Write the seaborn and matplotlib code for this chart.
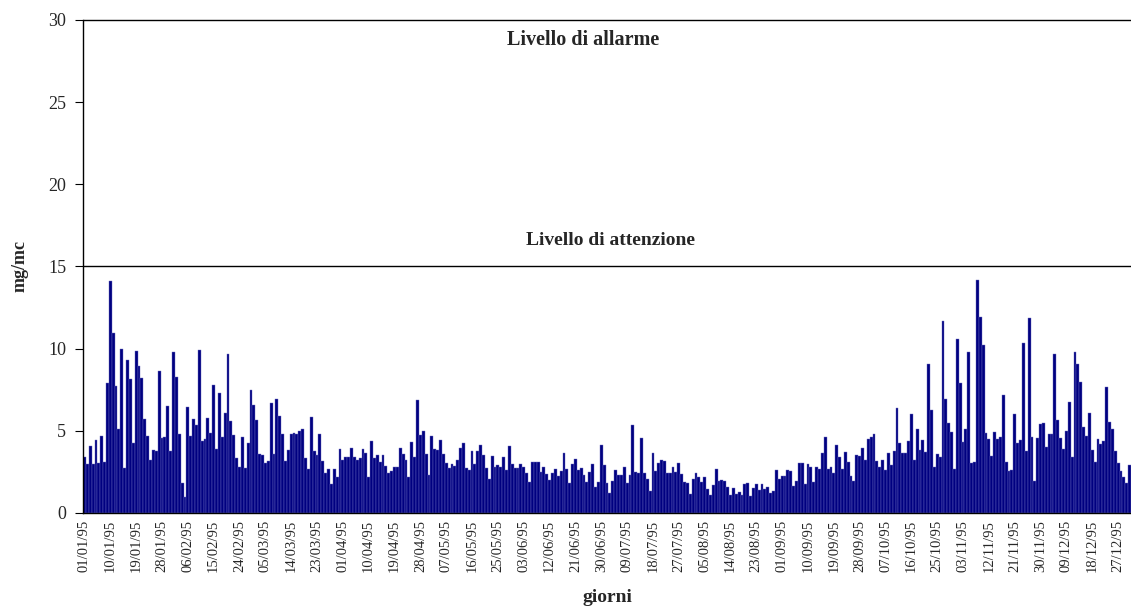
import pandas as pd
import matplotlib
matplotlib.use("Agg")
import matplotlib.pyplot as plt
import matplotlib.transforms as mtransforms
import seaborn as sns

# daily values, Jan -> Dec 1995 (mg/mc)
gen_feb = [3.39, 3.0, 4.08, 2.96, 4.44, 3.06, 4.7, 3.12, 7.93, 14.1, 10.97, 7.73, 5.13, 9.96,
           2.74, 9.29, 8.17, 4.24, 9.88, 8.92, 8.2, 5.74, 4.69, 3.25, 3.83, 3.79, 8.66, 4.54,
           4.64, 6.51, 3.79, 9.8, 8.26, 4.81, 1.8, 1.0, 6.47, 4.69, 5.72, 5.33, 9.92, 4.38,
           4.5, 5.8, 4.85, 7.79, 3.91, 7.3, 4.64, 6.06, 9.68, 5.62, 4.77, 3.37, 2.82, 4.64,
           2.76, 4.26, 7.48, 6.57]
mar_apr = [5.66, 3.61, 3.51, 3.02, 3.16, 6.71, 3.61, 6.92, 5.9, 4.83, 3.18, 3.83, 4.79, 4.87,
           4.79, 4.99, 5.09, 3.37, 2.68, 5.82, 3.77, 3.51, 4.79, 3.16, 2.45, 2.68, 1.78, 2.68,
           2.21, 3.91, 3.25, 3.4, 3.4, 3.94, 3.41, 3.2, 3.33, 3.91, 3.67, 2.21, 4.4, 3.33,
           3.53, 3.12, 3.53, 2.86, 2.43, 2.54, 2.82, 2.82, 3.94, 3.59, 3.2, 2.17, 4.34, 3.41,
           6.88, 4.77, 4.97, 3.59, 2.31, 4.71, 3.91]
mag_giu = [3.81, 4.42, 3.59, 3.02, 2.74, 2.96, 2.84, 3.23, 3.96, 4.24, 2.76, 2.6, 3.75, 2.96,
           3.75, 4.12, 3.55, 2.76, 2.05, 3.47, 2.82, 2.92, 2.8, 3.43, 2.62, 4.08, 2.98, 2.76,
           2.76, 3.0, 2.78, 2.45, 1.91, 3.12, 3.12, 3.12, 2.52, 2.82, 2.37, 2.01, 2.41, 2.68,
           2.27, 2.58, 3.67, 2.66, 1.85, 2.98, 3.29, 2.62, 2.74, 2.31, 1.91, 2.49, 2.96, 1.6,
           1.89, 4.14, 2.92, 1.8, 1.24]
lug_ago = [1.97, 2.62, 2.33, 2.29, 2.82, 1.85, 2.31, 5.33, 2.52, 2.41, 4.54, 2.45, 2.05, 1.36,
           3.67, 2.54, 3.06, 3.25, 3.16, 2.41, 2.45, 2.82, 2.52, 3.06, 2.37, 1.89, 1.8, 1.16,
           2.07, 2.41, 2.21, 1.89, 2.21, 1.48, 1.08, 1.7, 2.66, 1.97, 2.01, 1.97, 1.56, 1.08,
           1.5, 1.16, 1.3, 1.08, 1.76, 1.85, 1.03, 1.5, 1.74, 1.42, 1.78, 1.44, 1.58, 1.24,
           1.36, 2.62, 2.05, 2.27]
set_ott = [2.27, 2.62, 2.56, 1.64, 1.97, 3.06, 3.06, 1.76, 2.98, 2.82, 1.91, 2.78, 2.68, 3.65,
           4.64, 2.68, 2.82, 2.41, 4.14, 3.39, 2.68, 3.73, 3.1, 2.27, 1.97, 3.51, 3.47, 3.94,
           3.25, 4.48, 4.64, 4.79, 3.18, 2.8, 3.23, 2.62, 3.67, 2.92, 3.75, 6.41, 4.26, 3.65,
           3.67, 4.38, 6.0, 3.23, 5.11, 3.83, 4.42, 3.71, 9.07, 6.27, 2.78, 3.57, 3.43, 11.68,
           6.96, 5.46, 4.91, 2.68, 10.59, 7.93, 4.34]
nov_dic = [5.09, 9.8, 3.06, 3.12, 14.18, 11.93, 10.2, 4.87, 4.5, 3.47, 4.91, 4.52, 4.64, 7.16,
           3.12, 2.56, 2.64, 6.0, 4.24, 4.46, 10.34, 3.77, 11.85, 4.64, 1.93, 4.54, 5.4, 5.46,
           4.0, 4.81, 4.79, 9.66, 5.68, 4.58, 3.91, 5.01, 6.75, 3.41, 9.8, 9.07, 7.97, 5.25,
           4.71, 6.06, 3.83, 3.1, 4.52, 4.22, 4.36, 7.67, 5.54, 5.11, 3.75, 3.02, 2.56, 2.17,
           1.85, 2.92]

valori = gen_feb + mar_apr + mag_giu + lug_ago + set_ott + nov_dic
giorni = list(pd.date_range("1995-01-01", "1995-12-31").strftime("%d/%m/%y"))

soglie = [15, 30]
soglie_testo = ["Livello di attenzione", "Livello di allarme"]

df = pd.DataFrame({"giorno": giorni, "valore": valori})

sns.set_style("white")
plt.rcParams["font.family"] = ["Liberation Serif", "DejaVu Serif"]

fig = plt.figure(figsize=(11.31, 6.07), dpi=100)
ax = fig.add_axes([0.0734, 0.1549, 0.9266, 0.8122])

sns.barplot(data=df, x="giorno", y="valore", color="#000080", saturation=1,
            width=1.0, edgecolor="#6b6bc0", linewidth=0.3, ax=ax)

ax.set_xlim(-0.5, len(valori) - 0.5)
ax.set_ylim(0, 30)
ax.set_yticks(range(0, 31, 5))
ax.tick_params(axis="y", labelsize=13, length=6, pad=6, direction="out", color="black", left=True)
ax.set_xticks(range(0, len(giorni), 9))
ax.set_xticklabels(giorni[::9], rotation=90, fontsize=10.5)
ax.tick_params(axis="x", length=0, pad=5)

for s in ["top", "right"]:
    ax.spines[s].set_visible(False)
for s in ["left", "bottom"]:
    ax.spines[s].set_color("black")
    ax.spines[s].set_linewidth(1)

# soglie: attenzione e allarme
trans = mtransforms.blended_transform_factory(ax.transAxes, ax.transData)
for livello, testo, xpos, dy, fs in zip(soglie, soglie_testo, [0.503, 0.477], [1.6, -1.2], [14, 14.5]):
    ax.axhline(livello, color="black", linewidth=1, clip_on=False)
    ax.text(xpos, livello + dy, testo, transform=trans, ha="center", va="center",
            fontsize=fs, fontweight="bold")

ax.set_xlabel("giorni", fontsize=14, fontweight="bold", labelpad=12)
ax.set_ylabel("mg/mc", fontsize=13, fontweight="bold", labelpad=14)

fig.savefig("out.png", dpi=100)
